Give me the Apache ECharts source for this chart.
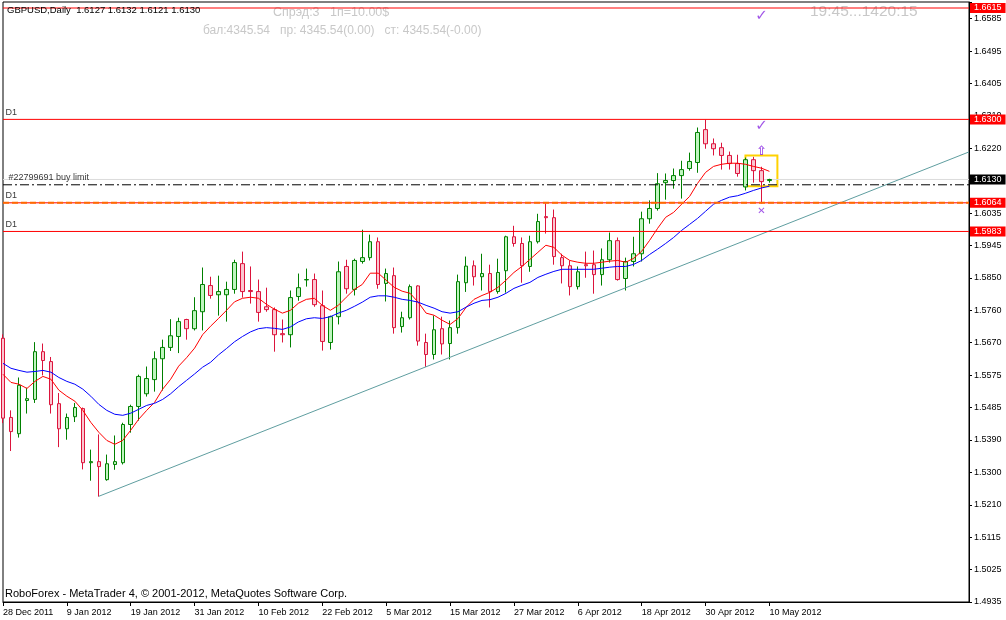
<!DOCTYPE html>
<html><head><meta charset="utf-8">
<script src="https://cdn.jsdelivr.net/npm/echarts@6.0.0/dist/echarts.min.js"></script>
<style>html,body{margin:0;padding:0;background:#fff}#c{width:1006px;height:620px}</style>
</head><body><div id="c"></div>
<script>
const symbolName = 'GBPUSD';
const timeframe = 'Daily';
const tickDates = ['28 Dec 2011','9 Jan 2012','19 Jan 2012','31 Jan 2012','10 Feb 2012','22 Feb 2012','5 Mar 2012','15 Mar 2012','27 Mar 2012','6 Apr 2012','18 Apr 2012','30 Apr 2012','10 May 2012'];
const priceTickLabels = ['1.4935','1.5025','1.5115','1.5210','1.5300','1.5390','1.5485','1.5575','1.5670','1.5760','1.5850','1.5945','1.6035','1.6125','1.6220','1.6310','1.6405','1.6495','1.6585'];

const opens = [1.5681,1.5457,1.5411,1.5505,1.5508,1.5643,1.5615,1.5496,1.5425,1.5459,1.5482,1.5329,1.5332,1.5281,1.5324,1.5329,1.5437,1.5488,1.5524,1.5564,
1.5623,1.5655,1.5686,1.5734,1.5708,1.5756,1.5830,1.5804,1.5804,1.5819,1.5892,1.5816,1.5813,1.5770,1.5762,1.5694,1.5691,1.5799,1.5846,1.5847,
1.5773,1.5669,1.5742,1.5884,1.5819,1.5898,1.5909,1.5954,1.5836,1.5858,1.5714,1.5739,1.5829,1.5669,1.5635,1.5708,1.5666,1.5711,1.5838,1.5886,
1.5855,1.5864,1.5813,1.5872,1.5968,1.5949,1.5884,1.5954,1.6025,1.6022,1.5909,1.5886,1.5827,1.5889,1.5889,1.5861,1.5903,1.5957,1.5850,1.5898,
1.5920,1.6019,1.6048,1.6121,1.6127,1.6141,1.6161,1.6178,1.6271,1.6231,1.6220,1.6198,1.6175,1.6109,1.6186,1.6155,1.6127];
const highs = [1.5692,1.5477,1.5570,1.5541,1.5670,1.5666,1.5628,1.5526,1.5468,1.5498,1.5485,1.5366,1.5409,1.5352,1.5406,1.5442,1.5493,1.5578,1.5601,1.5644,
1.5677,1.5735,1.5739,1.5736,1.5797,1.5881,1.5855,1.5858,1.5841,1.5903,1.5926,1.5884,1.5847,1.5824,1.5768,1.5734,1.5816,1.5864,1.5878,1.5864,
1.5816,1.5745,1.5898,1.5903,1.5906,1.5988,1.5974,1.5966,1.5878,1.5881,1.5756,1.5833,1.5831,1.5694,1.5745,1.5742,1.5731,1.5861,1.5912,1.5901,
1.5920,1.5889,1.5906,1.5971,1.5999,1.5966,1.5971,1.6033,1.6062,1.6045,1.5920,1.5901,1.5884,1.5926,1.5929,1.5935,1.5980,1.5966,1.5909,1.5968,
1.6039,1.6071,1.6148,1.6147,1.6161,1.6183,1.6206,1.6277,1.6299,1.6246,1.6234,1.6209,1.6200,1.6192,1.6194,1.6166,1.6132];
const lows = [1.5441,1.5362,1.5400,1.5468,1.5498,1.5576,1.5468,1.5373,1.5394,1.5444,1.5310,1.5278,1.5233,1.5278,1.5309,1.5324,1.5414,1.5448,1.5516,1.5530,
1.5533,1.5645,1.5639,1.5677,1.5703,1.5703,1.5793,1.5745,1.5728,1.5807,1.5796,1.5779,1.5728,1.5756,1.5643,1.5669,1.5655,1.5787,1.5827,1.5770,
1.5646,1.5649,1.5720,1.5807,1.5802,1.5892,1.5901,1.5821,1.5785,1.5694,1.5697,1.5734,1.5660,1.5600,1.5621,1.5635,1.5621,1.5694,1.5812,1.5830,
1.5816,1.5768,1.5807,1.5810,1.5940,1.5838,1.5869,1.5949,1.5977,1.5889,1.5836,1.5802,1.5819,1.5852,1.5807,1.5830,1.5895,1.5844,1.5816,1.5884,
1.5898,1.6005,1.6042,1.6073,1.6104,1.6076,1.6155,1.6149,1.6217,1.6198,1.6158,1.6158,1.6138,1.6099,1.6121,1.6062,1.6121];
const closes = [1.5455,1.5417,1.5548,1.5510,1.5643,1.5618,1.5493,1.5425,1.5457,1.5485,1.5329,1.5332,1.5318,1.5326,1.5332,1.5437,1.5488,1.5573,1.5567,1.5623,
1.5655,1.5688,1.5728,1.5708,1.5759,1.5833,1.5802,1.5813,1.5819,1.5895,1.5813,1.5813,1.5754,1.5762,1.5691,1.5691,1.5796,1.5824,1.5847,1.5776,
1.5672,1.5742,1.5869,1.5821,1.5901,1.5909,1.5954,1.5833,1.5864,1.5711,1.5739,1.5827,1.5673,1.5635,1.5705,1.5665,1.5711,1.5841,1.5885,1.5855,
1.5864,1.5813,1.5867,1.5968,1.5949,1.5886,1.5954,1.6011,1.6022,1.5912,1.5886,1.5827,1.5869,1.5886,1.5861,1.5903,1.5957,1.5847,1.5898,1.5920,
1.6019,1.6048,1.6118,1.6127,1.6141,1.6158,1.6181,1.6263,1.6231,1.6217,1.6198,1.6175,1.6147,1.6186,1.6155,1.6124,1.6130];

const maFast = [1.5579,1.5556,1.5551,1.5539,1.5559,1.5573,1.5565,1.5534,1.5517,1.5503,1.5477,1.5443,1.5415,1.5392,1.5381,1.5392,1.5421,1.5452,1.5477,1.5500,
1.5537,1.5565,1.5602,1.5626,1.5653,1.5691,1.5715,1.5737,1.5760,1.5784,1.5794,1.5797,1.5794,1.5777,1.5763,1.5752,1.5760,1.5780,1.5791,1.5794,
1.5774,1.5760,1.5774,1.5797,1.5819,1.5833,1.5865,1.5865,1.5845,1.5825,1.5814,1.5808,1.5783,1.5752,1.5746,1.5732,1.5720,1.5737,1.5768,1.5791,
1.5802,1.5811,1.5825,1.5845,1.5867,1.5884,1.5904,1.5924,1.5944,1.5938,1.5916,1.5901,1.5896,1.5893,1.5893,1.5896,1.5899,1.5901,1.5896,1.5907,
1.5927,1.5958,1.5992,1.6023,1.6037,1.6060,1.6082,1.6119,1.6150,1.6167,1.6173,1.6176,1.6176,1.6173,1.6167,1.6162,1.6153];
const maSlow = [1.5610,1.5596,1.5590,1.5585,1.5587,1.5590,1.5585,1.5570,1.5559,1.5551,1.5537,1.5517,1.5494,1.5477,1.5466,1.5463,1.5469,1.5480,1.5491,1.5497,
1.5508,1.5524,1.5544,1.5562,1.5580,1.5599,1.5613,1.5634,1.5652,1.5671,1.5686,1.5699,1.5708,1.5711,1.5709,1.5706,1.5713,1.5727,1.5736,1.5739,
1.5737,1.5742,1.5752,1.5760,1.5771,1.5783,1.5797,1.5801,1.5801,1.5797,1.5791,1.5788,1.5783,1.5774,1.5766,1.5756,1.5752,1.5756,1.5769,1.5780,
1.5788,1.5790,1.5797,1.5808,1.5822,1.5831,1.5839,1.5853,1.5862,1.5870,1.5876,1.5876,1.5876,1.5876,1.5876,1.5879,1.5882,1.5884,1.5884,1.5890,
1.5901,1.5918,1.5933,1.5949,1.5966,1.5986,1.6003,1.6020,1.6040,1.6060,1.6071,1.6080,1.6084,1.6091,1.6099,1.6106,1.6111];

const trendPoints = [[12, 1.5234], [121, 1.6208]];
const levelPrices = [1.6615, 1.6300, 1.6064, 1.5983];
const levelTags = ['', 'D1', 'D1', 'D1'];
const orderPrice = 1.6115;
const orderText = '#22799691 buy limit';
const bidPrice = closes[closes.length - 1];
const markerBar = 95;
const checkPrices = [1.6591, 1.6280];
const arrowPrice = 1.6210;
const crossPrice = 1.6039;
const boxBars = [93, 97];
const boxPrices = [1.6198, 1.6111];
const lastTickBar = 96;

const FONT = 'Liberation Sans';
const barCount = 122;
const lastCat = barCount - 1;
const categories = Array.from({length: barCount}, (_, i) => String(i));
const yMin = 1.4935, yMax = 1.6632, yStep = (1.6585 - 1.4935) / 18;
const candles = opens.map((o, i) => [o, closes[i], lows[i], highs[i]]);
const f4 = v => Number(v).toFixed(4);
const last = opens.length - 1;
const header = symbolName + ',' + timeframe + '  ' + [opens[last], highs[last], lows[last], closes[last]].map(f4).join(' ');
const CLEAR = 'rgba(0,0,0,0)';

function hLine(price, color, width, type, boxBg, z) {
  const s = {type: 'line', data: [[0, price], [lastCat, price]], showSymbol: false, symbol: 'none', silent: true, z: z || 4,
    lineStyle: {color: color, width: width, type: type}};
  if (boxBg) s.endLabel = {show: true, distance: 1, formatter: () => f4(price), backgroundColor: boxBg, color: '#fff',
    fontFamily: FONT, fontSize: 9, lineHeight: 10, padding: [0, 4, 0, 4]};
  return s;
}

const tagData = [];
levelPrices.forEach((p, k) => { if (levelTags[k]) tagData.push({value: [0, p], tag: levelTags[k], label: {position: [3, -11]}}); });
tagData.push({value: [0, orderPrice], tag: orderText, label: {position: [6, -11]}});

function glyphSeries(ch, prices, size) {
  return {type: 'scatter', symbol: 'circle', symbolSize: 1, itemStyle: {color: CLEAR}, z: 6, silent: true,
    data: prices.map(p => [markerBar, p]),
    label: {show: true, position: 'inside', formatter: ch, color: '#8a2be2', fontSize: size, fontFamily: 'DejaVu Sans', fontWeight: 'bold'}};
}

const series = [
  hLine(bidPrice, '#dcdcdc', 1, 'solid', '#000000', 1),
  hLine(orderPrice, '#000000', 1, [9, 3, 2, 3], null, 4),
  {type: 'candlestick', data: candles, barWidth: 4, z: 2,
    itemStyle: {color: '#bff5bf', color0: '#fbc6d0', borderColor: '#008000', borderColor0: '#dc143c', borderWidth: 1},
    markArea: {silent: true, itemStyle: {color: CLEAR, borderColor: '#ffd200', borderWidth: 2},
      data: [[{xAxis: boxBars[0], yAxis: boxPrices[0]}, {xAxis: boxBars[1], yAxis: boxPrices[1]}]]}
  },
  {type: 'line', data: maFast, showSymbol: false, symbol: 'none', z: 3, lineStyle: {color: '#ff0000', width: 1}, silent: true},
  {type: 'line', data: maSlow, showSymbol: false, symbol: 'none', z: 3, lineStyle: {color: '#0000ff', width: 1}, silent: true},
  {type: 'line', data: trendPoints, showSymbol: false, symbol: 'none', z: 3, lineStyle: {color: '#5f9ea0', width: 1}, silent: true}
];
levelPrices.forEach(p => series.push(hLine(p, '#ff0000', 1, 'solid', '#ff0000', 4)));
series.push(hLine(levelPrices[2], '#ff6a00', 2, [6, 3], null, 5));
series.push({type: 'scatter', symbol: 'circle', symbolSize: 1, itemStyle: {color: CLEAR}, z: 6, silent: true, clip: false,
  data: tagData,
  label: {show: true, position: [3, -11], formatter: p => p.data.tag, color: '#000', fontFamily: FONT, fontSize: 9}});
series.push(glyphSeries('✓', checkPrices, 15), glyphSeries('⇧', [arrowPrice], 13), glyphSeries('✕', [crossPrice], 10));

const chart = echarts.init(document.getElementById('c'), null, {renderer: 'canvas'});
chart.setOption({
  animation: false,
  backgroundColor: '#ffffff',
  grid: {left: 2, right: 37, top: 2, bottom: 18, show: true, borderColor: '#000', borderWidth: 1, backgroundColor: 'transparent'},
  xAxis: {
    type: 'category', data: categories, boundaryGap: false,
    axisLine: {show: true, lineStyle: {color: '#000', width: 1}},
    axisTick: {show: true, interval: (i) => i % 8 === 0 && i <= lastTickBar, length: 4, lineStyle: {color: '#000'}},
    axisLabel: {interval: 7, align: 'left', margin: 6, color: '#000', fontFamily: FONT, fontSize: 9,
      formatter: v => { const i = +v; return i % 8 === 0 ? (tickDates[i / 8] || '') : ''; }},
    splitLine: {show: false}
  },
  yAxis: {
    type: 'value', position: 'right', min: yMin, max: yMax, interval: yStep,
    axisLine: {show: true, lineStyle: {color: '#000'}},
    axisTick: {show: true, length: 3, lineStyle: {color: '#000'}},
    axisLabel: {margin: 5, color: '#000', fontFamily: FONT, fontSize: 9,
      formatter: v => { const r = (v - yMin) / yStep; const k = Math.round(r); return Math.abs(r - k) > 0.01 ? '' : (priceTickLabels[k] || ''); }},
    splitLine: {show: false}
  },
  graphic: [
    {type: 'text', x: 7, y: 10, z: 10, style: {text: header, font: '9.5px "Liberation Sans"', fill: '#000', verticalAlign: 'middle'}},
    {type: 'text', x: 273, y: 13, style: {text: 'Спрэд:3   1п=10.00$', font: '12.5px "Liberation Sans"', fill: '#c8c8c8', verticalAlign: 'middle'}},
    {type: 'text', x: 203, y: 31, style: {text: 'бал:4345.54   пр: 4345.54(0.00)   ст: 4345.54(-0.00)', font: '12px "Liberation Sans"', fill: '#c8c8c8', verticalAlign: 'middle'}},
    {type: 'text', x: 810, y: 12, style: {text: '19:45...1420:15', font: '15.5px "Liberation Sans"', fill: '#c8c8c8', verticalAlign: 'middle'}},
    {type: 'text', x: 5, y: 594, z: 10, style: {text: 'RoboForex - MetaTrader 4, © 2001-2012, MetaQuotes Software Corp.', font: '11px "Liberation Sans"', fill: '#000', verticalAlign: 'middle'}}
  ],
  series: series
});
</script></body></html>
